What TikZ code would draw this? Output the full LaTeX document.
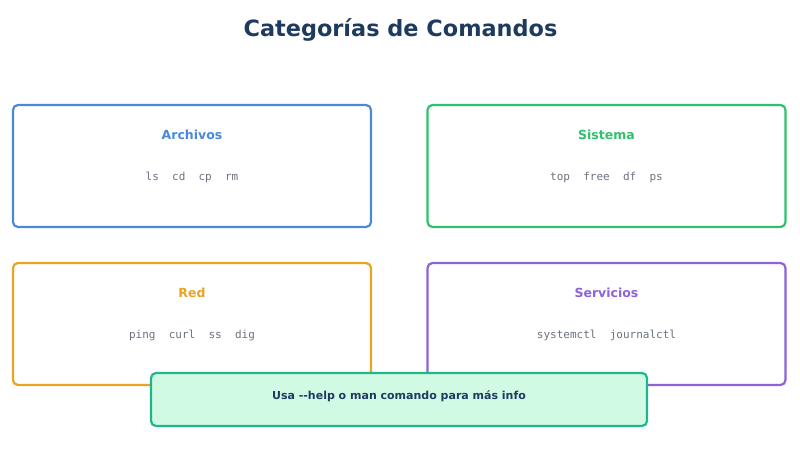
\documentclass[tikz,border=0pt]{standalone}
\usepackage{fontspec}
\setmainfont{DejaVu Sans}
\setmonofont{DejaVu Sans Mono}
\usepackage{tikz}

\definecolor{titlenavy}{HTML}{1E3A5F}
\definecolor{archblue}{HTML}{4A88DE}
\definecolor{sysgreen}{HTML}{2EC26C}
\definecolor{redorange}{HTML}{EAA424}
\definecolor{servpurple}{HTML}{8E62D8}
\definecolor{notegreen}{HTML}{1FB68A}
\definecolor{notefill}{HTML}{D1FAE5}
\definecolor{cmdgray}{HTML}{6B7280}

\begin{document}
\begin{tikzpicture}[x=1pt,y=-1pt,
    catbox/.style={draw=#1,line width=2.2pt,rounded corners=5pt,fill=white,
      minimum width=358pt,minimum height=122pt,inner sep=0pt},
    cattitle/.style={text=#1,font=\bfseries\fontsize{12.5}{15}\selectfont},
    cmdlist/.style={text=cmdgray,font=\ttfamily\fontsize{11}{13}\selectfont},
    notebox/.style={draw=notegreen,fill=notefill,line width=2.2pt,rounded corners=5pt,
      minimum width=496pt,minimum height=53pt,inner sep=0pt}]

  \useasboundingbox (0,0) rectangle (800,450);

  % --- heading ---
  \node[text=titlenavy,font=\bfseries\fontsize{22.4}{26}\selectfont] (heading) at (400.5,29.5) {Categorías de Comandos};

  % --- the four category boxes ---
  \node[catbox=archblue]   (archivos)  at (192,166) {};
  \node[catbox=sysgreen]   (sistema)   at (606.5,166) {};
  \node[catbox=redorange]  (red)       at (192,324) {};
  \node[catbox=servpurple] (servicios) at (606.5,324) {};

  % --- category names ---
  \node[cattitle=archblue]   (archivostitle)  at (192,135) {Archivos};
  \node[cattitle=sysgreen]   (sistematitle)   at (606.5,135) {Sistema};
  \node[cattitle=redorange]  (redtitle)       at (192,293) {Red};
  \node[cattitle=servpurple] (serviciostitle) at (606.5,293) {Servicios};

  % --- commands ---
  \node[cmdlist] (archivoscmds)  at (192,177) {ls\ \ cd\ \ cp\ \ rm};
  \node[cmdlist] (sistemacmds)   at (606.5,177) {top\ \ free\ \ df\ \ ps};
  \node[cmdlist] (redcmds)       at (192,335) {ping\ \ curl\ \ ss\ \ dig};
  \node[cmdlist] (servicioscmds) at (606.5,335) {systemctl\ \ journalctl};

  % --- the hint along the bottom ---
  \node[notebox] (hint) at (399,399.5) {};
  \node[text=titlenavy,font=\bfseries\fontsize{11}{14}\selectfont] (hinttext) at (399,396.5) {Usa -{}-help o man comando para más info};
\end{tikzpicture}
\end{document}
